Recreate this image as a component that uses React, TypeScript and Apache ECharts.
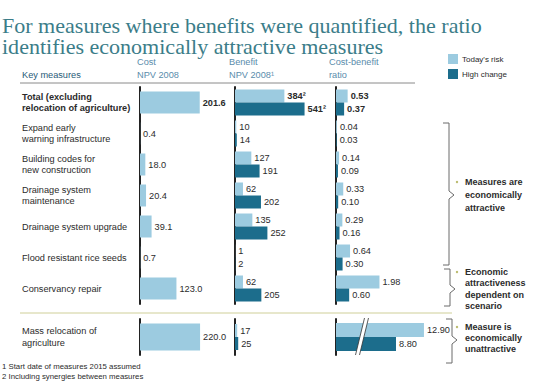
import React, { useEffect, useRef } from "react";
import * as echarts from "echarts";

const categoriesTop = [
  "Total (excluding\nrelocation of agriculture)",
  "Expand early\nwarning infrastructure",
  "Building codes for\nnew construction",
  "Drainage system\nmaintenance",
  "Drainage system upgrade",
  "Flood resistant rice seeds",
  "Conservancy repair",
];
const categoriesBottom = ["Mass relocation of\nagriculture"];

const costTop = [201.6, 0.4, 18.0, 20.4, 39.1, 0.7, 123.0];
const costBottom = [220.0];

const benefitTodayTop = [384, 10, 127, 62, 135, 1, 62];
const benefitHighTop = [541, 14, 191, 202, 252, 2, 205];
const benefitTodayBottom = [17];
const benefitHighBottom = [25];

const ratioTodayTop = [0.53, 0.04, 0.14, 0.33, 0.29, 0.64, 1.98];
const ratioHighTop = [0.37, 0.03, 0.09, 0.1, 0.16, 0.3, 0.6];
const ratioTodayBottom = [12.9];
const ratioHighBottom = [8.8];

const titleLines = [
  "For measures where benefits were quantified, the ratio",
  "identifies economically attractive measures",
];

const LIGHT = "#9ccbe0";
const DARK = "#1c6d8c";
const FONT = "'Liberation Sans', Arial, sans-serif";
const SERIF = "'Liberation Serif', 'DejaVu Serif', serif";
const TXT = "#2b2b2b";

export default function App() {
  const ref = useRef<HTMLDivElement>(null);
  useEffect(() => {
    document.body.style.margin = "0";
    if (!ref.current) return;
    const chart = echarts.init(ref.current, null, { renderer: "svg" });

    const TOP = 87;
    const TOPH = 217;
    const BOT = 319;
    const BOTH = 36;

    const grids = [
      { left: 140, top: TOP, width: 80, height: TOPH },
      { left: 140, top: BOT, width: 80, height: BOTH },
      { left: 235, top: TOP, width: 90, height: TOPH },
      { left: 235, top: BOT, width: 90, height: BOTH },
      { left: 336, top: TOP, width: 90, height: TOPH },
      { left: 336, top: BOT, width: 90, height: BOTH },
    ];
    const maxes = [270, 293, 700, 700, 4.1, 13.2];

    const xAxis = grids.map((_, i) => ({
      type: "value",
      gridIndex: i,
      min: 0,
      max: maxes[i],
      show: false,
    }));

    const yAxis = grids.map((_, i) => {
      const isTop = i % 2 === 0;
      const showLabels = i === 0 || i === 1;
      return {
        type: "category",
        gridIndex: i,
        inverse: true,
        data: isTop ? categoriesTop : categoriesBottom,
        axisLine: { show: true, onZero: false, lineStyle: { color: "#222", width: 2 } },
        axisTick: { show: false },
        splitLine: { show: false },
        axisLabel: {
          show: showLabels,
          align: "left",
          margin: 118,
          fontFamily: FONT,
          fontSize: 9.2,
          lineHeight: 11.5,
          color: TXT,
          formatter: (v: string, idx: number) =>
            isTop && idx === 0
              ? v.split("\n").map((l) => `{b|${l}}`).join("\n")
              : v,
          rich: {
            b: { fontWeight: "bold", fontFamily: FONT, fontSize: 9.2, lineHeight: 11.5, color: TXT },
          },
        },
      };
    });

    const lbl = (fmt: (v: number, i: number) => string, boldFirst: boolean) => ({
      show: true,
      position: "right",
      distance: 3,
      fontFamily: FONT,
      fontSize: 9.2,
      color: TXT,
      formatter: (p: any) => {
        const t = fmt(p.value, p.dataIndex);
        return boldFirst && p.dataIndex === 0 ? `{b|${t}}` : t;
      },
      rich: { b: { fontWeight: "bold", fontFamily: FONT, fontSize: 9.2, color: TXT } },
    });

    const costFmt = (v: number) => v.toFixed(1);
    const benFmt = (v: number) => `${v}`;
    const benTopFmt = (v: number, i: number) => (i === 0 ? `${v}²` : `${v}`);
    const ratioFmt = (v: number) => v.toFixed(2);

    const series: any[] = [
      {
        type: "bar", name: "Cost", xAxisIndex: 0, yAxisIndex: 0, data: costTop,
        barWidth: 22, itemStyle: { color: LIGHT }, label: lbl(costFmt, true),
      },
      {
        type: "bar", name: "Cost", xAxisIndex: 1, yAxisIndex: 1, data: costBottom,
        barWidth: 27, itemStyle: { color: LIGHT }, label: lbl(costFmt, false),
      },
      {
        type: "bar", name: "Today's risk", xAxisIndex: 2, yAxisIndex: 2, data: benefitTodayTop,
        barWidth: 13, barGap: "0%", itemStyle: { color: LIGHT }, label: lbl(benTopFmt, true),
      },
      {
        type: "bar", name: "High change", xAxisIndex: 2, yAxisIndex: 2, data: benefitHighTop,
        barWidth: 13, barGap: "0%", itemStyle: { color: DARK }, label: lbl(benTopFmt, true),
      },
      {
        type: "bar", name: "Today's risk", xAxisIndex: 3, yAxisIndex: 3, data: benefitTodayBottom,
        barWidth: 13, barGap: "0%", itemStyle: { color: LIGHT }, label: lbl(benFmt, false),
      },
      {
        type: "bar", name: "High change", xAxisIndex: 3, yAxisIndex: 3, data: benefitHighBottom,
        barWidth: 13, barGap: "0%", itemStyle: { color: DARK }, label: lbl(benFmt, false),
      },
      {
        type: "bar", name: "Today's risk", xAxisIndex: 4, yAxisIndex: 4, data: ratioTodayTop,
        barWidth: 13, barGap: "0%", itemStyle: { color: LIGHT }, label: lbl(ratioFmt, true),
      },
      {
        type: "bar", name: "High change", xAxisIndex: 4, yAxisIndex: 4, data: ratioHighTop,
        barWidth: 13, barGap: "0%", itemStyle: { color: DARK }, label: lbl(ratioFmt, true),
      },
      {
        type: "bar", name: "Today's risk", xAxisIndex: 5, yAxisIndex: 5, data: ratioTodayBottom,
        barWidth: 14, barGap: "0%", itemStyle: { color: LIGHT }, label: lbl(ratioFmt, false),
      },
      {
        type: "bar", name: "High change", xAxisIndex: 5, yAxisIndex: 5, data: ratioHighBottom,
        barWidth: 14, barGap: "0%", itemStyle: { color: DARK }, label: lbl(ratioFmt, false),
      },
    ];

    const txt = (text: string, x: number, y: number, opts: any = {}) => ({
      type: "text",
      x,
      y,
      z: 50,
      style: {
        text,
        fontFamily: FONT,
        fontSize: 9.2,
        fill: TXT,
        align: "left",
        verticalAlign: "middle",
        ...opts,
      },
    });

    const braceColor = "#6a6a6a";
    const brace = (x: number, y1: number, y2: number, tip: number) => ({
      type: "polyline",
      z: 50,
      shape: {
        points: [
          [x - 6, y1], [x, y1], [x, tip - 4], [x + 5, tip], [x, tip + 4], [x, y2], [x - 6, y2],
        ],
      },
      style: { stroke: braceColor, lineWidth: 1, fill: null },
    });
    const dot = (x: number, y: number) => ({
      type: "circle", z: 50, shape: { cx: x, cy: y, r: 1.2 }, style: { fill: "#b9b96a" },
    });
    const bold = { fontWeight: "bold", fontSize: 9, lineHeight: 13 };

    const titleStyle = (text: string) => ({
      text,
      fontFamily: SERIF,
      fontSize: 21,
      fill: "#3b7d89",
      align: "left",
      verticalAlign: "alphabetic",
    });

    const graphic: any[] = [
      { type: "text", x: 2, y: 16, scaleX: 1.05, z: 50, style: titleStyle(titleLines[0]) },
      { type: "text", x: 2, y: 37, scaleX: 1.05, z: 50, style: titleStyle(titleLines[1]) },
      txt("Key measures", 22, 75, { fill: "#285a78", fontSize: 9.2 }),
      txt("Cost", 137, 62, { fill: "#5a8cab" }),
      txt("NPV 2008", 137, 75, { fill: "#5a8cab" }),
      txt("Benefit", 229, 62, { fill: "#5a8cab" }),
      txt("NPV 2008¹", 229, 75, { fill: "#5a8cab" }),
      txt("Cost-benefit", 329, 62, { fill: "#5a8cab" }),
      txt("ratio", 329, 75, { fill: "#5a8cab" }),
      { type: "line", z: 50, shape: { x1: 20, y1: 83, x2: 415, y2: 83 }, style: { stroke: "#8a8a8a", lineWidth: 1 } },
      { type: "line", z: 50, shape: { x1: 20, y1: 313, x2: 452, y2: 313 }, style: { stroke: "#cfcf98", lineWidth: 1 } },
      brace(449, 123, 265, 195),
      brace(450, 269, 306, 289),
      brace(452, 319, 363, 340),
      dot(457, 182),
      dot(457, 272),
      dot(457, 327),
      txt("Measures are\neconomically\nattractive", 465, 195, bold),
      txt("Economic\nattractiveness\ndependent on\nscenario", 465, 289, { ...bold, lineHeight: 11.5 }),
      txt("Measure is\neconomically\nunattractive", 465, 338, { ...bold, lineHeight: 11.2 }),
      {
        type: "polygon", z: 60,
        shape: { points: [[364.5, 318], [368.5, 318], [359.5, 355], [355.5, 355]] },
        style: { fill: "#ffffff" },
      },
      { type: "line", z: 61, shape: { x1: 364.5, y1: 318, x2: 355.5, y2: 355 }, style: { stroke: "#333", lineWidth: 0.8 } },
      { type: "line", z: 61, shape: { x1: 368.5, y1: 318, x2: 359.5, y2: 355 }, style: { stroke: "#333", lineWidth: 0.8 } },
      txt("1 Start date of measures 2015 assumed", 2, 366, { fontSize: 7.8 }),
      txt("2 Including synergies between measures", 2, 376, { fontSize: 7.8 }),
    ];

    chart.setOption({
      animation: false,
      legend: {
        data: ["Today's risk", "High change"],
        orient: "vertical",
        left: 443,
        top: 49,
        itemWidth: 10,
        itemHeight: 10,
        itemGap: 5,
        icon: "rect",
        selectedMode: false,
        textStyle: { fontFamily: FONT, fontSize: 8, color: TXT, padding: [0, 0, 0, -1] },
      },
      grid: grids,
      xAxis,
      yAxis,
      series,
      graphic,
    });
    return () => chart.dispose();
  }, []);
  return <div ref={ref} style={{ width: 534, height: 382 }} />;
}
